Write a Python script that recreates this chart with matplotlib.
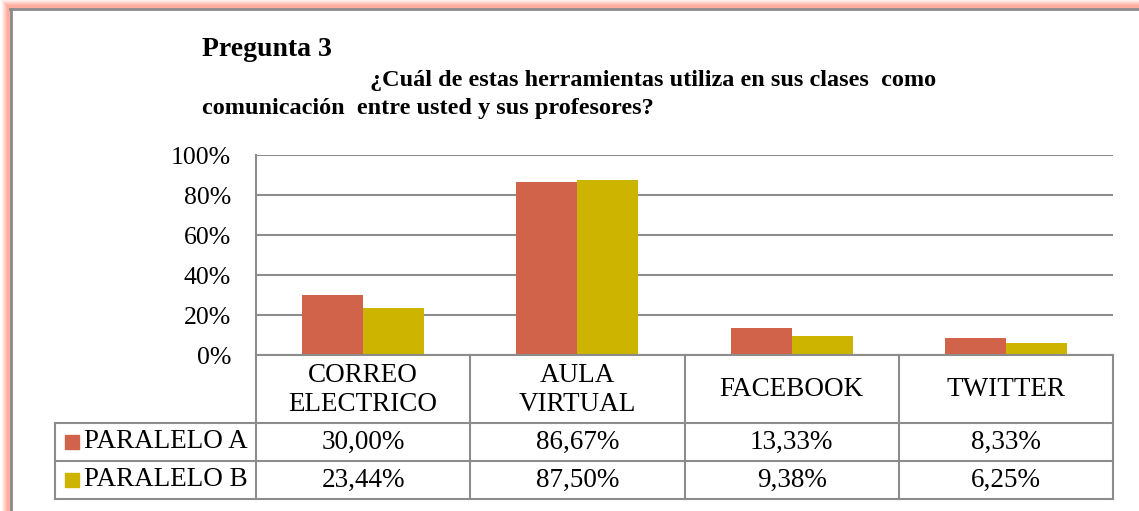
import matplotlib
matplotlib.use("Agg")
import matplotlib.pyplot as plt
from matplotlib.patches import Rectangle
from matplotlib.lines import Line2D
import numpy as np

categorias = ["CORREO\nELECTRICO", "AULA\nVIRTUAL", "FACEBOOK", "TWITTER"]
series = ["PARALELO A", "PARALELO B"]
paralelo_a = [30.00, 86.67, 13.33, 8.33]
paralelo_b = [23.44, 87.50, 9.38, 6.25]
colores = ["#D1634A", "#CCB400"]
yticks = [0, 20, 40, 60, 80, 100]

W, H = 1139, 511
plt.rcParams['font.family'] = ['Liberation Serif', 'DejaVu Serif']
fig = plt.figure(figsize=(W / 100, H / 100), dpi=100)


def fx(px):
    return px / W


def fy(py):
    return 1 - py / H


# salmon glow + gray frame
for i in range(10):
    t = min(1.0, i / 6.0)
    c = (1.0, 1.0 - 0.32 * t, 1.0 - 0.38 * t)
    fig.add_artist(Line2D([fx(i + 0.5), fx(i + 0.5)], [fy(max(i - 1, 0)), 0], color=c, lw=0.8))
    fig.add_artist(Line2D([fx(i), 1], [fy(i - 0.5), fy(i - 0.5)], color=c, lw=0.8))
fig.add_artist(Line2D([fx(10.5), fx(10.5)], [fy(9.5), 0], color="#8C8C8C", lw=2))
fig.add_artist(Line2D([fx(10), 1], [fy(9.5), fy(9.5)], color="#8C8C8C", lw=2))

# titles
fig.text(fx(202), fy(56), "Pregunta 3", fontsize=20, fontweight="bold", va="baseline")
fig.text(fx(370), fy(86), "¿Cuál de estas herramientas utiliza en sus clases  como",
         fontsize=17.5, fontweight="bold", va="baseline")
fig.text(fx(202), fy(114), "comunicación  entre usted y sus profesores?",
         fontsize=17.5, fontweight="bold", va="baseline")

x_left, x_right = 256, 1113
y_top, y_bot = 155, 355
ax = fig.add_axes([fx(x_left), fy(y_bot), (x_right - x_left) / W, (y_bot - y_top) / H])

x = np.arange(len(categorias))
w = 0.285
ax.bar(x - w / 2, paralelo_a, w, color=colores[0], zorder=3)
ax.bar(x + w / 2, paralelo_b, w, color=colores[1], zorder=3)

ax.set_xlim(-0.5, len(categorias) - 0.5)
ax.set_ylim(0, 100)
ax.set_yticks(yticks)
ax.set_yticklabels([f"{v}%" for v in yticks], fontsize=18.5)
ax.tick_params(axis="y", length=0, pad=18)
ax.set_xticks([])
ax.yaxis.grid(True, color="#8C8C8C", lw=1.5, zorder=0)
for s in ["top", "right", "bottom"]:
    ax.spines[s].set_visible(False)
ax.spines["left"].set_color("#8C8C8C")
ax.spines["left"].set_linewidth(1.5)

# data table below the axis
gray = "#8C8C8C"
col_w = (x_right - x_left) / len(categorias)
cols = [x_left + i * col_w for i in range(len(categorias) + 1)]
rows = [355, 423, 461, 499]
leg_left = 55

for r in rows:
    l = x_left if r == rows[0] else leg_left
    fig.add_artist(Line2D([fx(l), fx(x_right)], [fy(r), fy(r)], color=gray, lw=1.5))
for c in cols:
    fig.add_artist(Line2D([fx(c), fx(c)], [fy(rows[0]), fy(rows[-1])], color=gray, lw=1.5))
fig.add_artist(Line2D([fx(leg_left), fx(leg_left)], [fy(rows[1]), fy(rows[-1])], color=gray, lw=1.5))

for i, cat in enumerate(categorias):
    cx = (cols[i] + cols[i + 1]) / 2
    fig.text(fx(cx), fy((rows[0] + rows[1]) / 2 + 1), cat, fontsize=19.5, ha="center",
             va="center", linespacing=1.2)

for j, (nombre, vals) in enumerate(zip(series, [paralelo_a, paralelo_b])):
    yc = (rows[j + 1] + rows[j + 2]) / 2
    fig.add_artist(Rectangle((fx(65), fy(yc + 7)), 14 / W, 14 / H, color=colores[j]))
    fig.text(fx(84), fy(yc), nombre, fontsize=19.5, va="center")
    for i, v in enumerate(vals):
        cx = (cols[i] + cols[i + 1]) / 2
        fig.text(fx(cx), fy(yc), f"{v:.2f}%".replace(".", ","), fontsize=19.5,
                 ha="center", va="center")

fig.savefig("out.png", dpi=100)
